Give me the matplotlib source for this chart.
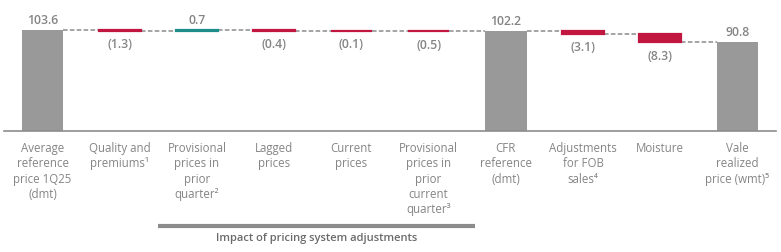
import matplotlib.pyplot as plt
import matplotlib.transforms as mtransforms

plt.rcParams['font.family'] = ['Open Sans', 'DejaVu Sans']

categories = ["Average\nreference\nprice 1Q25\n(dmt)", "Quality and\npremiums¹",
              "Provisional\nprices in\nprior\nquarter²", "Lagged\nprices", "Current\nprices",
              "Provisional\nprices in\nprior\ncurrent\nquarter³", "CFR\nreference\n(dmt)",
              "Adjustments\nfor FOB\nsales⁴", "Moisture", "Vale\nrealized\nprice (wmt)⁵"]
values = [103.6, -1.3, 0.7, -0.4, -0.1, -0.5, 102.2, -3.1, -8.3, 90.8]
is_total = [True, False, False, False, False, False, True, False, False, True]
value_labels = ["103.6", "(1.3)", "0.7", "(0.4)", "(0.1)", "(0.5)", "102.2", "(3.1)", "(8.3)", "90.8"]

gray = "#999999"
red = "#C0163F"
teal = "#1E8C8A"
txt = "#858585"

fig = plt.figure(figsize=(7.81, 2.52), dpi=100)
ax = fig.add_axes([4 / 781, 121 / 252, 772 / 781, 131 / 252])

w = 0.54
running = 0
levels = []
for i, (v, tot) in enumerate(zip(values, is_total)):
    if tot:
        ax.bar(i, v, width=w, color=gray, zorder=2)
        running = v
        ax.text(i, v + 3, value_labels[i], ha="center", va="bottom", color=txt,
                fontsize=8.8, fontweight="semibold")
    else:
        start = running
        end = running + v
        c = teal if v > 0 else red
        ax.bar(i, v, bottom=start, width=w, color=c, edgecolor=c, linewidth=1.6, zorder=2)
        if v > 0:
            ax.text(i, end + 3, value_labels[i], ha="center", va="bottom", color=txt,
                    fontsize=8.8, fontweight="semibold")
        else:
            ax.text(i, end - 7.5, value_labels[i], ha="center", va="top", color=txt,
                    fontsize=8.8, fontweight="semibold")
        running = end
    levels.append(running)

# connectors
for i in range(len(values) - 1):
    ax.plot([i + w / 2, i + 1 - w / 2], [levels[i], levels[i]], color="#8c8c8c",
            lw=1.1, ls=(0, (3, 1.5)), zorder=1)

ax.set_xlim(-0.5, 9.5)
ax.set_ylim(0, 134)
ax.set_yticks([])
ax.set_xticks(range(len(categories)))
ax.set_xticklabels(categories, color=txt, fontsize=8.3, linespacing=1.22)
ax.tick_params(axis="x", length=0, pad=8)
for s in ["top", "right", "left"]:
    ax.spines[s].set_visible(False)
ax.spines["bottom"].set_color("#8c8c8c")
ax.spines["bottom"].set_linewidth(1.2)

trans = mtransforms.blended_transform_factory(ax.transData, fig.transFigure)
ax.plot([1.5, 5.6], [26 / 252, 26 / 252], transform=trans, color="#8c8c8c", lw=3,
        clip_on=False, solid_capstyle="butt")
ax.text(3.55, 13 / 252, "Impact of pricing system adjustments", transform=trans,
        ha="center", va="center", color="#6b6b6b", fontsize=8, fontweight="semibold")

fig.savefig("out.png", dpi=100)
